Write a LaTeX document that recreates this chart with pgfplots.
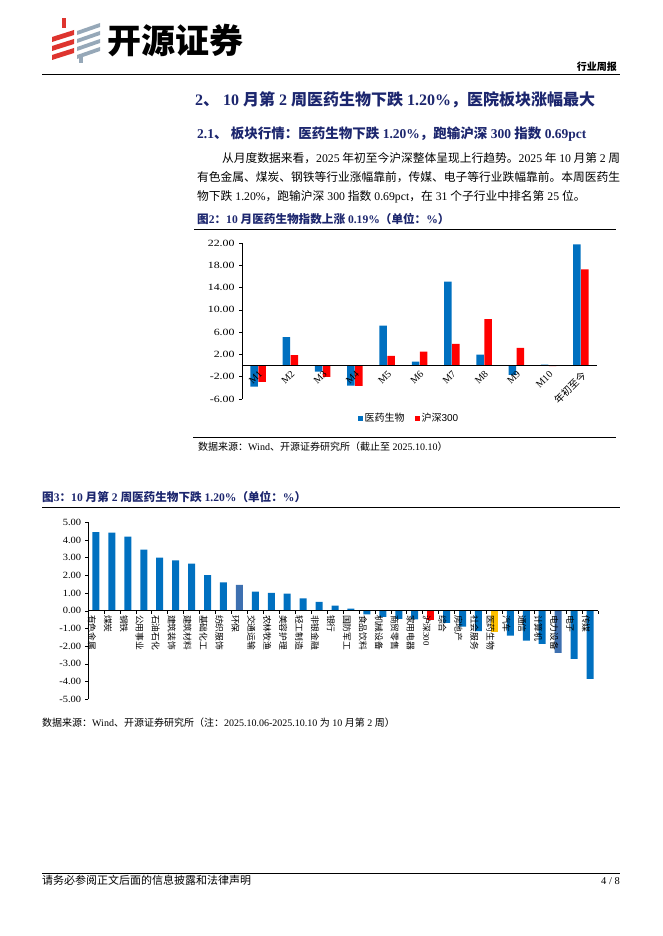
\documentclass[border=0pt]{standalone}
\usepackage{pgfplots}
\pgfplotsset{compat=1.18}
\usepackage{fontspec}
\setmainfont{Liberation Serif}
\newfontfamily\cjk{Noto Sans CJK SC}
\newfontfamily\arial{Liberation Sans}
\newcommand\zh[1]{{\cjk #1}}
\XeTeXlinebreaklocale "zh"
\XeTeXlinebreakskip=0pt plus 1pt
\definecolor{navy}{RGB}{28,38,110}
\definecolor{xblue}{RGB}{0,112,192}
\definecolor{xblue2}{RGB}{62,112,176}
\definecolor{xred}{RGB}{255,0,0}
\definecolor{xyellow}{RGB}{255,192,0}
\definecolor{logored}{RGB}{222,52,46}
\definecolor{logogrey}{RGB}{150,168,184}
\begin{document}
\begin{tikzpicture}[x=1pt,y=1pt]
\useasboundingbox (0,0) rectangle (662,-936);
% ---- logo ----
\fill[logored] (62,-18) -- (66,-18) -- (66,-28) -- (62,-28) -- cycle;
\foreach \k in {0,1,2} {
  \fill[logored] (52,{-37-\k*9}) -- (74,{-30-\k*9}) -- (74,{-35-\k*9}) -- (52,{-42-\k*9}) -- cycle;
}
\foreach \k in {0,1,2,3} {
  \fill[logogrey] (77,{-31-\k*8}) -- (100,{-23-\k*8}) -- (100,{-27-\k*8}) -- (77,{-35-\k*8}) -- cycle;
}
\fill[logogrey] (79,-56) -- (83,-56) -- (83,-63) -- (79,-63) -- cycle;
\node[anchor=base west, inner sep=0, font=\cjk\fontsize{34}{36}\selectfont\bfseries] at (107,-54) {开源证券};
\node[anchor=base east, inner sep=0, font=\cjk\fontsize{10}{11}\selectfont\bfseries] at (617,-70.5) {行业周报};
\draw[line width=0.8pt] (42,-74) -- (620,-74);
% ---- headings ----
\node[anchor=base west, inner sep=0, text=navy, font=\fontsize{16}{18}\selectfont\bfseries] at (195,-106)
  {2\zh{、} 10 \zh{月第} 2 \zh{周医药生物下跌} 1.20\%\zh{，医院板块涨幅最大}};
\node[anchor=base west, inner sep=0, text=navy, font=\fontsize{13.5}{15}\selectfont\bfseries] at (197,-138.5)
  {2.1\zh{、} \zh{板块行情：医药生物下跌} 1.20\%\zh{，跑输沪深} 300 \zh{指数} 0.69pct};
% ---- paragraph ----
\begin{scope}[every node/.style={anchor=base west, inner sep=0, font=\fontsize{11.75}{13}\selectfont}]
\node at (222,-162.5) {\makebox[398pt][s]{\zh{从月度数据来看，}2025 \zh{年初至今沪深整体呈现上行趋势。}2025 \zh{年} 10 \zh{月第} 2 \zh{周}}};
\node at (197,-181.5) {\makebox[423pt][s]{\zh{有色金属、煤炭、钢铁等行业涨幅靠前，传媒、电子等行业跌幅靠前。本周医药生}}};
\node at (197,-200.5) {\zh{物下跌} 1.20\%\zh{，跑输沪深} 300 \zh{指数} 0.69pct\zh{，在} 31 \zh{个子行业中排名第} 25 \zh{位。}};
\end{scope}
% ---- figure 2 ----
\node[anchor=base west, inner sep=0, text=navy, font=\fontsize{11.6}{12}\selectfont\bfseries] at (197,-223)
  {\zh{图}2\zh{：}10 \zh{月医药生物指数上涨} 0.19\%\zh{（单位：}\%\zh{）}};
\draw[line width=0.8pt] (194,-229) -- (616,-229);
\begin{axis}[at={(242pt,-399pt)}, anchor=south west, scale only axis,
  width=355pt, height=156pt,
  xmin=-0.5, xmax=10.5, ymin=-6, ymax=22,
  axis on top,
  axis x line=middle, axis y line=left,
  axis line style={-, black, line width=0.8pt},
  hide obscured x ticks=false, hide obscured y ticks=false,
  xtick={0,...,10},
  xticklabels={M1,M2,M3,M4,M5,M6,M7,M8,M9,M10,\zh{年初至今}},
  xtick style={draw=none},
  xticklabel style={rotate=45, anchor=north east, inner sep=1pt, font=\fontsize{10}{11}\selectfont},
  ytick={-6,-2,...,22},
  tick align=outside, major tick length=3pt,
  ytick style={black, line width=0.6pt},
  /pgf/number format/assume math mode=true,
  yticklabel style={/pgf/number format/.cd, fixed, fixed zerofill, precision=2, /tikz/.cd,
     font=\fontsize{9.5}{10}\selectfont, xscale=1.25},
  legend style={at={(0.47,-0.122)}, anchor=center, draw=none, fill=none,
     font=\fontsize{10}{11}\selectfont, legend columns=2,
     /tikz/every even column/.append style={column sep=8pt}},
]
\addplot[ybar, bar width=7.5pt, bar shift=-4pt, fill=xblue, draw=none,
  legend image code/.code={\fill (0pt,-2.5pt) rectangle (5pt,2.5pt);}]
  coordinates {(0,-3.78) (1,5.10) (2,-1.08) (3,-3.60) (4,7.19) (5,0.72) (6,15.05) (7,1.98) (8,-1.68) (9,0.19) (10,21.76)};
\addlegendentry{\zh{医药生物}}
\addplot[ybar, bar width=7.5pt, bar shift=4pt, fill=xred, draw=none,
  legend image code/.code={\fill (0pt,-2.5pt) rectangle (5pt,2.5pt);}]
  coordinates {(0,-2.94) (1,1.86) (2,-2.04) (3,-3.66) (4,1.74) (5,2.52) (6,3.90) (7,8.33) (8,3.18) (9,-0.08) (10,17.27)};
\addlegendentry{\zh{沪深}{\arial 300}}
\end{axis}
\draw[line width=0.8pt] (193,-437) -- (616,-437);
\node[anchor=base west, inner sep=0, font=\fontsize{10}{11}\selectfont] at (198,-450)
  {\zh{数据来源：}Wind\zh{、开源证券研究所（截止至} 2025.10.10\zh{）}};
% ---- figure 3 ----
\node[anchor=base west, inner sep=0, text=navy, font=\fontsize{11.6}{12}\selectfont\bfseries] at (42,-501)
  {\zh{图}3\zh{：}10 \zh{月第} 2 \zh{周医药生物下跌} 1.20\%\zh{（单位：}\%\zh{）}};
\draw[line width=0.8pt] (42,-507) -- (620,-507);
\begin{axis}[at={(88pt,-699.3pt)}, anchor=south west, scale only axis,
  width=510pt, height=177pt,
  xmin=-0.5, xmax=31.5, ymin=-5, ymax=5,
  axis on top,
  axis x line=middle, axis y line=left,
  axis line style={-, black, line width=0.8pt},
  hide obscured x ticks=false, hide obscured y ticks=false,
  xtick={0,...,31},
  minor xtick={-0.5,0.5,...,31.5},
  major x tick style={draw=none},
  minor x tick style={black, line width=0.6pt},
  minor tick length=3pt,
  xticklabels={\zh{有色金属},\zh{煤炭},\zh{钢铁},\zh{公用事业},\zh{石油石化},\zh{建筑装饰},\zh{建筑材料},\zh{基础化工},\zh{纺织服饰},\zh{环保},\zh{交通运输},\zh{农林牧渔},\zh{美容护理},\zh{轻工制造},\zh{非银金融},\zh{银行},\zh{国防军工},\zh{食品饮料},\zh{机械设备},\zh{商贸零售},\zh{家用电器},\zh{沪深}300,\zh{综合},\zh{房地产},\zh{社会服务},\zh{医药生物},\zh{汽车},\zh{通信},\zh{计算机},\zh{电力设备},\zh{电子},\zh{传媒}},
  xticklabel style={rotate=-90, anchor=west, inner sep=1pt, yshift=-4pt, font=\fontsize{8.75}{9}\selectfont},
  ytick={-5,...,5},
  tick align=outside, major tick length=3pt,
  ytick style={black, line width=0.6pt},
  /pgf/number format/assume math mode=true,
  yticklabel style={/pgf/number format/.cd, fixed, fixed zerofill, precision=2, /tikz/.cd,
     font=\fontsize{9.5}{10}\selectfont, xscale=1.1},
]
\addplot[ybar, bar width=7pt, fill=xblue, draw=none]
  coordinates {(0,4.45) (1,4.41) (2,4.19) (3,3.45) (4,3.00) (5,2.85) (6,2.66) (7,2.02) (8,1.60)
  (10,1.08) (11,1.02) (12,0.97) (13,0.70) (14,0.50) (15,0.29) (16,0.12) (17,-0.20) (18,-0.34)
  (19,-0.45) (20,-0.49) (22,-0.68) (23,-0.90) (24,-1.15) (26,-1.40) (27,-1.68) (28,-1.87)
  (30,-2.71) (31,-3.85)};
\addplot[ybar, bar width=7pt, fill=xblue2, draw=none] coordinates {(9,1.47) (29,-2.37)};
\addplot[ybar, bar width=7pt, fill=xred, draw=none] coordinates {(21,-0.51)};
\addplot[ybar, bar width=7pt, fill=xyellow, draw=none] coordinates {(25,-1.20)};
\end{axis}
\node[anchor=base west, inner sep=0, font=\fontsize{10}{11}\selectfont] at (42,-726)
  {\zh{数据来源：}Wind\zh{、开源证券研究所（注：}2025.10.06-2025.10.10 \zh{为} 10 \zh{月第} 2 \zh{周）}};
% ---- footer ----
\draw[line width=0.8pt] (42,-873) -- (620,-873);
\node[anchor=base west, inner sep=0, font=\fontsize{11}{12}\selectfont] at (42,-884.5)
  {\zh{请务必参阅正文后面的信息披露和法律声明}};
\node[anchor=base east, inner sep=0, font=\fontsize{10.5}{11}\selectfont] at (620,-884.5) {4 / 8};
\end{tikzpicture}
\end{document}
